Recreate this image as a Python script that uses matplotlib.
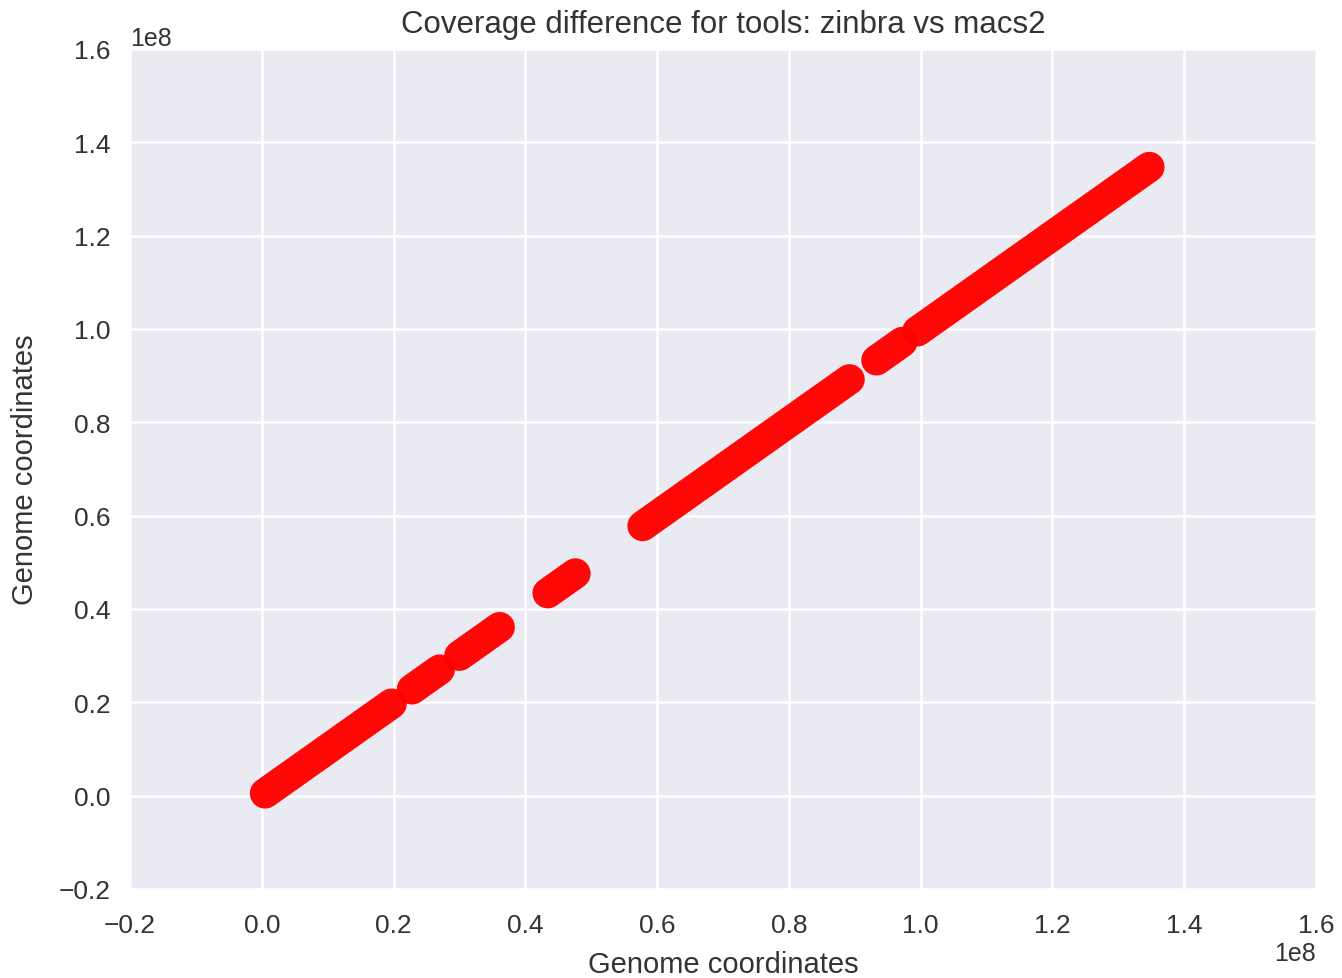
import matplotlib
matplotlib.use("Agg")
import matplotlib.pyplot as plt

# peak segments (genome coordinates)
segment_start = [0.005e8, 0.228e8, 0.300e8, 0.434e8, 0.578e8, 0.933e8, 0.995e8]
segment_end = [0.197e8, 0.270e8, 0.361e8, 0.476e8, 0.892e8, 0.972e8, 1.347e8]

plt.rcParams['font.family'] = ['Liberation Sans', 'DejaVu Sans']
plt.rcParams['axes.facecolor'] = '#EAEAF2'
plt.rcParams['text.color'] = '#333333'
plt.rcParams['axes.labelcolor'] = '#333333'
plt.rcParams['xtick.color'] = '#333333'
plt.rcParams['ytick.color'] = '#333333'

fig = plt.figure(figsize=(13.42, 9.79), dpi=100)
ax = fig.add_axes([130 / 1342, 1 - 890 / 979, 1186 / 1342, 840 / 979])

for x0, x1 in zip(segment_start, segment_end):
    ax.plot([x0, x1], [x0, x1], color='red', lw=22, alpha=0.97,
            solid_capstyle='round', zorder=3)

ax.set_xlim(-0.2e8, 1.6e8)
ax.set_ylim(-0.2e8, 1.6e8)
ax.set_xticks([i * 0.2e8 for i in range(-1, 9)])
ax.set_yticks([i * 0.2e8 for i in range(-1, 9)])
ax.grid(True, color='white', lw=1.8)
ax.set_axisbelow(True)
for s in ax.spines.values():
    s.set_visible(False)
ax.tick_params(length=0, labelsize=19)
ax.tick_params(axis='x', pad=17)
ax.tick_params(axis='y', pad=14)
ax.xaxis.get_offset_text().set_fontsize(18)
ax.yaxis.get_offset_text().set_fontsize(18)

ax.set_title("Coverage difference for tools: zinbra vs macs2", fontsize=22.5, pad=12)
ax.set_xlabel("Genome coordinates", fontsize=21, labelpad=10)
ax.set_ylabel("Genome coordinates", fontsize=21, labelpad=14)

fig.savefig("out.png", dpi=100)
